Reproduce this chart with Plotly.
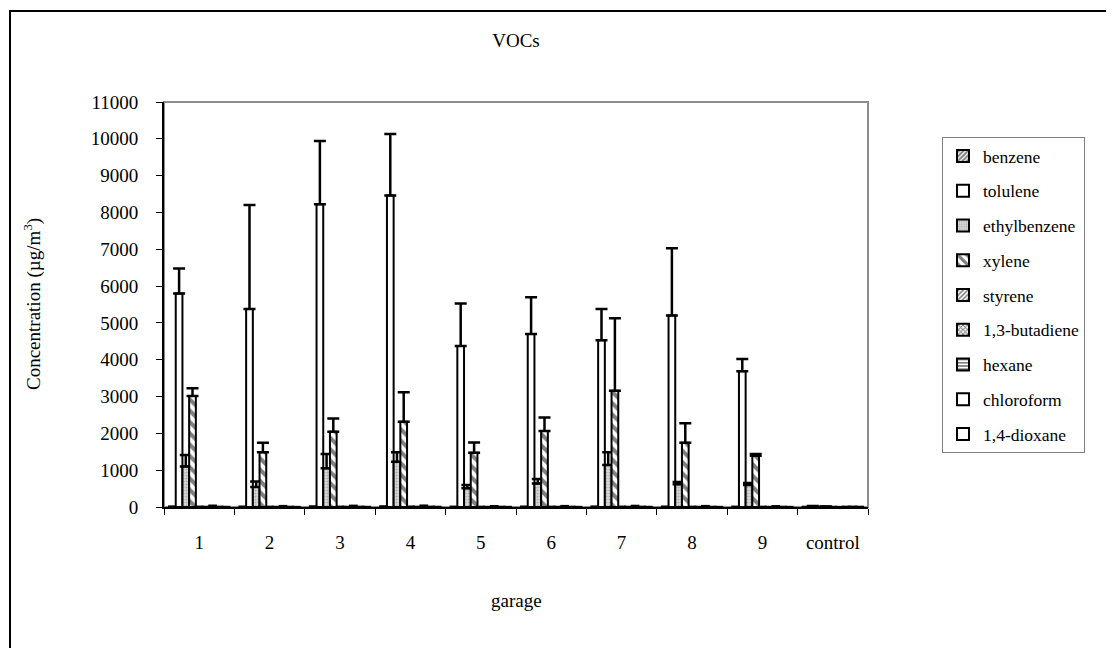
import plotly.graph_objects as go

categories = ["1", "2", "3", "4", "5", "6", "7", "8", "9", "control"]

benzene = [18, 14, 20, 22, 12, 14, 16, 14, 12, 8]
tolulene = [5800, 5380, 8220, 8460, 4370, 4700, 4530, 5200, 3690, 20]
tolulene_err = [680, 2820, 1720, 1670, 1160, 995, 845, 1830, 330, 5]
ethylbenzene = [1100, 540, 1050, 1230, 510, 640, 1140, 620, 600, 6]
ethylbenzene_err = [310, 150, 390, 255, 90, 120, 345, 60, 50, 0]
xylene = [3015, 1485, 2046, 2317, 1475, 2064, 3160, 1747, 1393, 15]
xylene_err = [210, 260, 360, 800, 280, 370, 1965, 525, 47, 0]
styrene = [12, 10, 12, 14, 9, 10, 12, 10, 9, 6]
butadiene = [8, 6, 8, 9, 6, 7, 8, 7, 6, 4]
hexane = [40, 30, 38, 42, 28, 30, 35, 30, 26, 10]
chloroform = [10, 8, 10, 11, 8, 9, 10, 8, 8, 12]
dioxane = [6, 5, 6, 7, 5, 5, 6, 5, 5, 8]

series = [
    ("benzene", benzene, None, "white", dict(shape="/", fgcolor="black", size=4, solidity=0.6)),
    ("tolulene", tolulene, tolulene_err, "white", None),
    ("ethylbenzene", ethylbenzene, ethylbenzene_err, "#d9d9d9", dict(shape=".", fgcolor="#808080", size=3, solidity=0.4)),
    ("xylene", xylene, xylene_err, "white", dict(shape="\\", fgcolor="black", size=8, solidity=0.5)),
    ("styrene", styrene, None, "white", dict(shape="/", fgcolor="black", size=4, solidity=0.5)),
    ("1,3-butadiene", butadiene, None, "white", dict(shape="x", fgcolor="black", size=4, solidity=0.5)),
    ("hexane", hexane, None, "white", dict(shape="-", fgcolor="black", size=4, solidity=0.5)),
    ("chloroform", chloroform, None, "white", None),
    ("1,4-dioxane", dioxane, None, "white", None),
]

FONT = "Liberation Serif, Times New Roman, serif"

# page is rendered with an 8px body margin, so the figure is shifted by 8px
L, T, PW, PH = 156, 94, 704, 405
W, H = 1106, 640

fig = go.Figure()
for i, (name, vals, err, fill, pat) in enumerate(series):
    marker = dict(color=fill, line=dict(color="black", width=2))
    if pat is not None:
        marker["pattern"] = pat
    kw = {}
    if err is not None:
        kw["error_y"] = dict(type="data", symmetric=False, array=err,
                             arrayminus=[0] * len(err), color="black",
                             thickness=2.5, width=6)
    fig.add_trace(go.Bar(name=name, x=categories, y=vals, marker=marker,
                         legendgroup=f"g{i}", **kw))

fig.update_layout(
    width=W, height=H,
    margin=dict(l=L, r=W - L - PW, t=T, b=H - T - PH, autoexpand=False),
    paper_bgcolor="white", plot_bgcolor="white",
    barmode="group", bargap=0.143, bargroupgap=0,
    font=dict(family=FONT, size=19, color="black"),
    showlegend=True,
    legend=dict(x=(934 - L) / PW, y=(T + PH - 129) / PH, xanchor="left", yanchor="top",
                bordercolor="#808080", borderwidth=1, bgcolor="white",
                font=dict(family=FONT, size=17.5, color="black"),
                tracegroupgap=9, itemwidth=30, entrywidth=155),
    title=dict(text="VOCs", x=0.5, xref="paper", xanchor="center",
               y=1 - 32 / H, yref="container", yanchor="middle",
               font=dict(family=FONT, size=19, color="black")),
)

fig.update_xaxes(type="category", showline=True, linecolor="black", linewidth=2,
                 ticks="outside", tickson="boundaries", ticklen=6, tickwidth=1,
                 tickcolor="black", showgrid=False, ticklabelstandoff=17,
                 tickfont=dict(family=FONT, size=19))
fig.update_yaxes(range=[0, 11000], dtick=1000, tick0=0, tickformat="d",
                 showline=True, linecolor="black", linewidth=2, ticks="outside",
                 ticklen=6, tickwidth=1, tickcolor="black", showgrid=False,
                 ticklabelstandoff=14, zeroline=False,
                 tickfont=dict(family=FONT, size=19))

# plot-area border (gray) and outer chart frame
fig.add_shape(type="rect", xref="paper", yref="paper", x0=0, y0=0, x1=1, y1=1,
              line=dict(color="#8c8c8c", width=2), layer="below")
fig.add_shape(type="rect", xref="paper", yref="paper",
              x0=(2 - L) / PW, x1=(1125 - L) / PW,
              y0=(T + PH - 660) / PH, y1=(T + PH - 3) / PH,
              line=dict(color="black", width=2), layer="below")

fig.add_annotation(text="Concentration (µg/m<sup>3</sup>)", textangle=-90,
                   xref="paper", yref="paper", x=(24 - L) / PW, y=(T + PH - 296) / PH,
                   xanchor="center", yanchor="middle", showarrow=False,
                   font=dict(family=FONT, size=19))
fig.add_annotation(text="garage", xref="paper", yref="paper",
                   x=0.5, y=(T + PH - 592) / PH, xanchor="center", yanchor="middle",
                   showarrow=False, font=dict(family=FONT, size=19))

fig.write_html("out.html")
